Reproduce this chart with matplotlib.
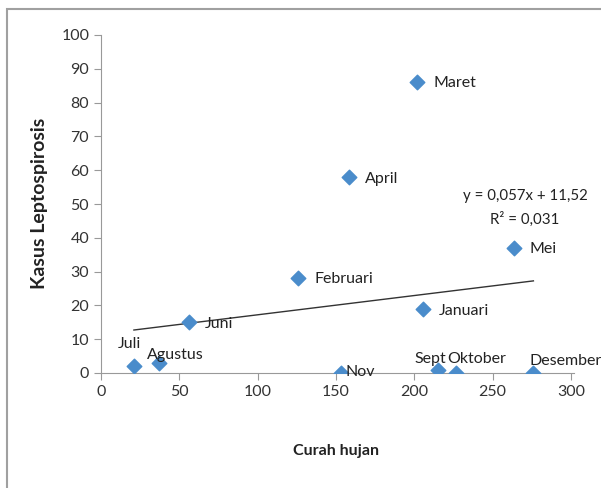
import matplotlib.pyplot as plt
from matplotlib.patches import Rectangle

bulan = ["Januari", "Februari", "Maret", "April", "Mei", "Juni", "Juli",
         "Agustus", "Sept", "Oktober", "Nov", "Desember"]
curah_hujan = [205.5, 126, 202, 158, 263.5, 56, 21, 37, 215, 226.5, 153, 276]
kasus = [19, 28, 86, 58, 37, 15, 2, 3, 1, 0, 0, 0]

slope = 0.057
intercept = 11.52

# label offsets in pixels (dx, dy)
offsets = {
    "Januari": (16, -2), "Februari": (16, -1), "Maret": (16, -1), "April": (16, -2),
    "Mei": (16, -1), "Juni": (16, -2), "Juli": (-16, 22), "Agustus": (-12, 8),
    "Sept": (-23, 11), "Oktober": (-9, 14), "Nov": (5, 1), "Desember": (-4, 12),
}

plt.rcParams['font.family'] = ['Lato', 'DejaVu Sans']

fig = plt.figure(figsize=(6.01, 4.88), dpi=100)
fig.patches.append(Rectangle((7 / 601, -0.01), 1.0, 1 - 9 / 488 + 0.01,
                             transform=fig.transFigure, fill=False,
                             edgecolor='#a0a0a0', linewidth=1.5))

ax = fig.add_axes([101 / 601, 1 - 373 / 488, 470 / 601, 338 / 488])
ax.scatter(curah_hujan, kasus, marker='D', s=55, color='#4a8ccb', zorder=3)

xs = [min(curah_hujan), max(curah_hujan)]
ax.plot(xs, [slope * x + intercept for x in xs], color='#333333', linewidth=1)

for name, x, y in zip(bulan, curah_hujan, kasus):
    dx, dy = offsets[name]
    ax.annotate(name, (x, y), xytext=(dx * 0.72, dy * 0.72), textcoords='offset points',
                ha='left', va='center', fontsize=11.5, color='#222222')

ax.text(0.902, 0.488, "y = 0,057x + 11,52\nR² = 0,031", transform=ax.transAxes,
        ha='center', va='center', fontsize=10.8, color='#222222', linespacing=1.75)

ax.set_xlim(0, 300)
ax.set_ylim(0, 100)
ax.set_xticks(range(0, 301, 50))
ax.set_yticks(range(0, 101, 10))
ax.tick_params(labelsize=11.5, colors='#333333', length=5, color='#999999')
for s in ['top', 'right']:
    ax.spines[s].set_visible(False)
for s in ['left', 'bottom']:
    ax.spines[s].set_color('#999999')
ax.spines['bottom'].set_bounds(0, 302)

fig.text(40 / 601, 1 - 203 / 488, "Kasus Leptospirosis", rotation=90, ha='center',
         va='center', fontsize=14, fontweight='bold', color='#222222')
fig.text(336 / 601, 1 - 451 / 488, "Curah hujan", ha='center', va='center',
         fontsize=11.5, fontweight='bold', color='#222222')

fig.savefig("out.png", dpi=100)
